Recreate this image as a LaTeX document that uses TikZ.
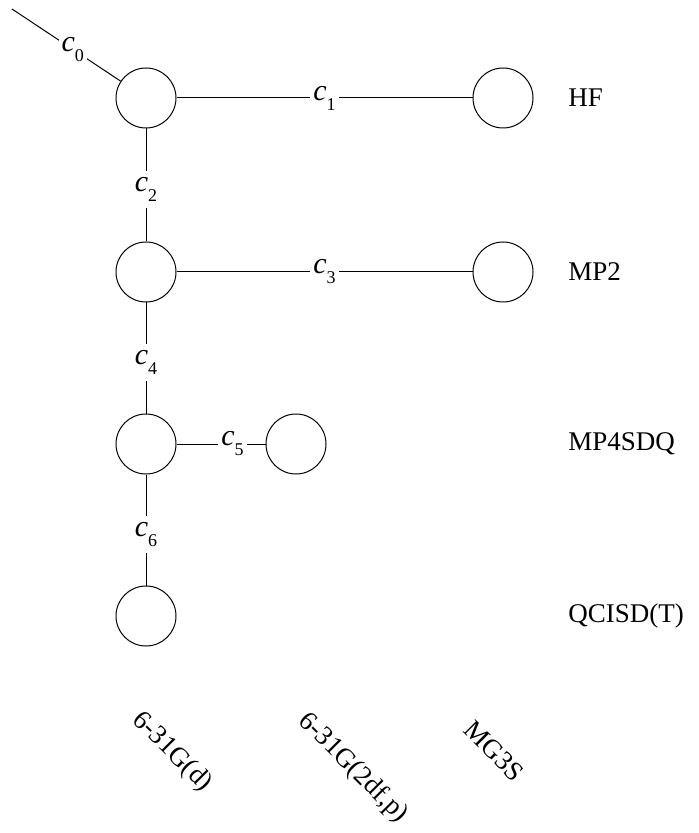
\documentclass[tikz,border=0pt]{standalone}
\usepackage{fontspec}
\setmainfont{Liberation Serif}
\newcommand{\cl}[1]{{\fontsize{15}{16}\selectfont\textit{c}}\raisebox{-5pt}{\fontsize{9}{10}\selectfont #1}}
\begin{document}
\begin{tikzpicture}[x=0.5pt,y=-0.5pt,
  every node/.style={font=\fontsize{13.5}{15}\selectfont},
  st/.style={circle,draw,line width=0.5pt,minimum size=30pt,inner sep=0pt},
  lbl/.style={fill=white,inner xsep=1.5pt,inner ysep=3pt},
  row/.style={anchor=west,inner sep=0pt},
  conn/.style={line width=0.5pt}]
\path[use as bounding box] (0,0) rectangle (698,833);
\node[st] (a1) at (146,98) {};
\node[st] (b1) at (503,98) {};
\node[st] (a2) at (146,272) {};
\node[st] (b2) at (503,272) {};
\node[st] (a3) at (146,444) {};
\node[st] (m3) at (296,444) {};
\node[st] (a4) at (146,616) {};
\coordinate (s0) at (12,9);
\draw[conn] (s0) -- node[lbl,pos=0.56]{\cl{0}} (a1);
\draw[conn] (a1) -- node[lbl,pos=0.5]{\cl{1}} (b1);
\draw[conn] (a1) -- node[lbl,pos=0.54]{\cl{2}} (a2);
\draw[conn] (a2) -- node[lbl,pos=0.5]{\cl{3}} (b2);
\draw[conn] (a2) -- node[lbl,pos=0.54]{\cl{4}} (a3);
\draw[conn] (a3) -- node[lbl,pos=0.63]{\cl{5}} (m3);
\draw[conn] (a3) -- node[lbl,pos=0.54]{\cl{6}} (a4);
\node[row] (hf) at (568,98) {HF};
\node[row] (mp2) at (568,272) {MP2};
\node[row] (mp4) at (568,444) {MP4SDQ};
\node[row] (qci) at (568,616) {QCISD(T)};
\node[rotate=-45,inner sep=0pt] (bs1) at (172,752) {6-31G(d)};
\node[rotate=-45,inner sep=0pt] (bs2) at (353,768) {6-31G(2df,p)};
\node[rotate=-45,inner sep=0pt] (bs3) at (494,751) {MG3S};
\end{tikzpicture}
\end{document}
